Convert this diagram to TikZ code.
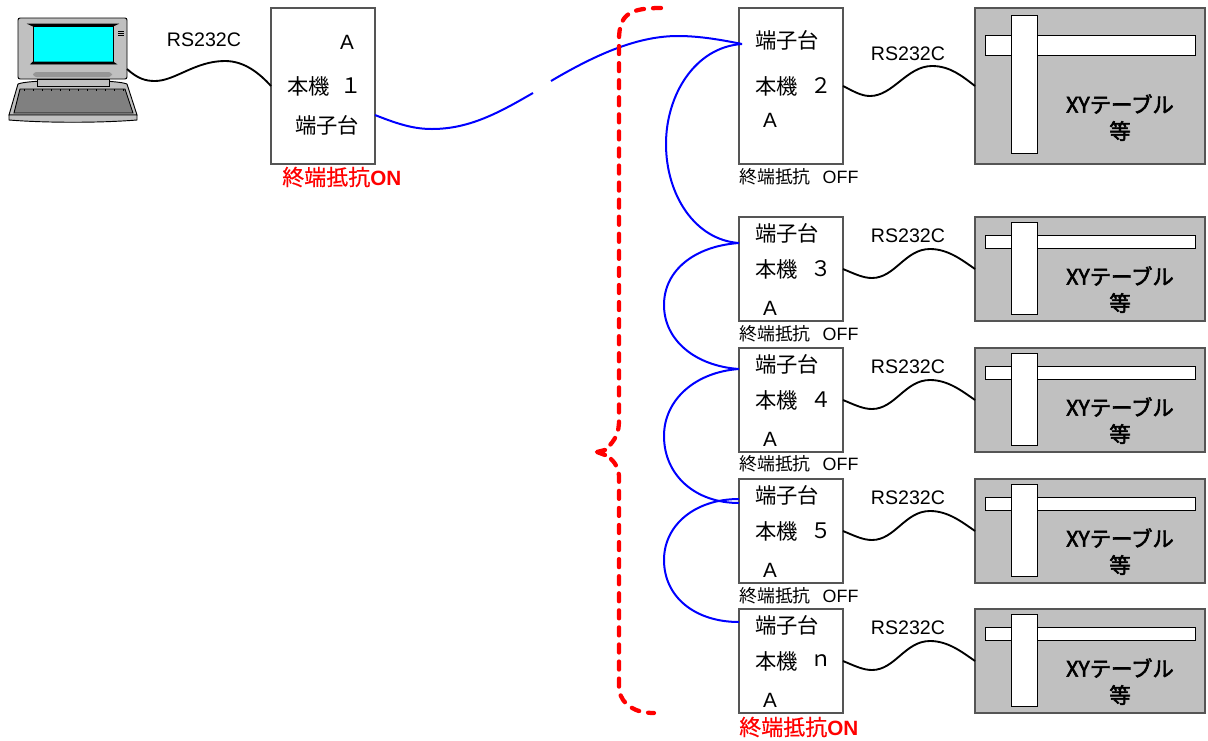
\documentclass[tikz,border=0pt]{standalone}
\usepackage{fontspec}
\setmainfont{Liberation Sans}
\newfontfamily\jp{Noto Sans CJK JP}
\newfontfamily\jpfb[FakeBold=2.6]{Noto Sans CJK JP}
\newfontfamily\jpsb[FakeBold=.4]{Noto Sans CJK JP}
\definecolor{lapgrey}{HTML}{C0C0C0}
\definecolor{keygrey}{HTML}{808080}
\definecolor{handlegrey}{HTML}{969696}
\definecolor{boxline}{HTML}{555555}
\definecolor{scr}{RGB}{0,255,255}
\definecolor{busblue}{RGB}{0,0,255}
\definecolor{redd}{RGB}{255,0,0}
\tikzset{
  box/.style={draw=boxline,line width=1pt,fill=white,minimum width=78pt,inner sep=0pt,outer sep=0pt},
  lab/.style={inner sep=0pt,outer sep=0pt,font=\fontsize{16}{18}\selectfont\jp},
  rs/.style={inner sep=0pt,font=\fontsize{14.7}{17}\selectfont},
  alab/.style={inner sep=0pt,font=\fontsize{15.5}{17}\selectfont},
  offlab/.style={inner sep=0pt,anchor=west,font=\fontsize{13.4}{15}\selectfont},
  onlab/.style={inner sep=0pt,anchor=west,text=redd,font=\fontsize{16.5}{18}\selectfont},
  xylab/.style={inner sep=0pt,font=\fontsize{16}{18}\selectfont\jpfb},
  cable/.style={draw=black,line width=1.4pt},
  bus/.style={draw=busblue,line width=1.5pt},
  bracket/.style={draw=redd,line width=3.2pt,dash pattern=on 6pt off 6.8pt,line cap=round,line join=round},
  tablebody/.style={draw=boxline,line width=.8pt,fill=lapgrey},
  tablebar/.style={draw=black,line width=.6pt,fill=white},
  lap/.style={draw=black,line width=.7pt}
}
\newcommand{\termlab}[1]{{\jp 終端抵抗}#1}
\newcommand{\termon}{{\jpsb 終端抵抗}{\fontsize{15.5}{18}\selectfont\bfseries ON}}
\begin{document}
\begin{tikzpicture}[x=.75pt,y=-.75pt]
\useasboundingbox (0,0) rectangle (1208,740);
\fill[white] (0,0) rectangle (1208,740);

% laptop
\filldraw[lap,fill=lapgrey,rounded corners=1.5pt] (18,18) -- (127,18) -- (127,79) -- (18,79) -- cycle;
\fill[scr] (33,26) rectangle (113,62);
\draw[lap,draw=black,fill=black] (29,24.2) -- (117,24.2) -- (113,26) -- (33,26) -- cycle;
\draw[lap,draw=black,fill=black] (31,64) -- (116,64) -- (113,62) -- (33,62) -- cycle;
\draw[black,line width=.6pt] (33,26) rectangle (113,62);
\foreach \yy in {31,33,35}{\draw[black,line width=.7pt] (118,\yy) -- (124,\yy);}
\fill[handlegrey,rounded corners=2.5pt] (33,72) rectangle (112,77);
\filldraw[lap,fill=lapgrey] (18,84) .. controls (30,79) and (115,79) .. (127,84) -- (137,115) -- (9,115) -- cycle;
\filldraw[lap,fill=keygrey] (20,89) -- (125,89) -- (133,113) -- (14,113) -- cycle;
\foreach \xx in {24,33,...,123}{\draw[black,line width=.4pt] (\xx,89) -- (\xx,91);}
\filldraw[lap,fill=lapgrey] (37,79) rectangle (109,86);
\filldraw[lap,fill=lapgrey] (9,115) -- (137,115) -- (137,120) .. controls (100,123) and (46,123) .. (9,120) -- cycle;
\coordinate (lapport) at (127,69);

% main boxes
\node[box,minimum height=117pt] (b1) at (323,86) {};
\node[box,minimum height=117pt] (b2) at (791,86) {};
\node[rs] (rs1) at (204,40) {RS232C};
\node[alab] (a1) at (347,42) {A};
\node[lab,anchor=west] (m1) at (287,86) {本機};
\node[lab] (d1) at (351,86) {１};
\node[lab,anchor=west] (t1) at (295,125) {端子台};
\node[onlab] (r1) at (282,177) {\termon};

\draw[cable] (lapport) .. controls (138,79) and (146,81) .. (155,81) .. controls (175,81) and (195,61) .. (225,61) .. controls (245,61) and (260,74) .. (b1.west);

% table for box 2
\node[tablebody,minimum width=172.5pt,minimum height=117pt,inner sep=0pt,outer sep=0pt] (tb2) at (1090,86) {};
\draw[tablebar] (985,35) rectangle (1195,55);
\draw[tablebar] (1011,15) rectangle (1037,153);
\node[xylab] (xy2) at (1120,104) {XYテーブル};
\node[xylab] (dd2) at (1120,131) {等};
\node[lab,anchor=west] (t2) at (755,40) {端子台};
\node[lab,anchor=west] (m2) at (755,86) {本機};
\node[lab] (d2) at (821,86) {２};
\node[alab] (a2) at (770,120) {A};
\node[rs] (rs2) at (908,54) {RS232C};
\node[offlab] (o2) at (739,177) {\termlab{\hspace{9pt}OFF}};
\draw[cable] (b2.east) .. controls (853,91) and (861,96) .. (870,96) .. controls (893,96) and (907,66) .. (932,66) .. controls (950,66) and (962,76) .. (tb2.west);

% lower rows
\foreach \nm/\tp/\ds in {3/217/３,4/348/４,5/479/５,6/609/ｎ}{
  \node[box,minimum height=78pt] (b\nm) at (791,\tp+52) {};
  \node[lab,anchor=west] (t\nm) at (755,\tp+16.5) {端子台};
  \node[lab,anchor=west] (m\nm) at (755,\tp+52) {本機};
  \node[lab] (d\nm) at (821,\tp+52) {\ds};
  \node[alab] (a\nm) at (770,\tp+91) {A};
  \node[rs] (rs\nm) at (908,\tp+18.5) {RS232C};
  \node[tablebody,minimum width=172.5pt,minimum height=78pt,inner sep=0pt,outer sep=0pt] (tb\nm) at (1090,\tp+52) {};
  \draw[tablebar] (985,\tp+18) rectangle (1195,\tp+31);
  \draw[tablebar] (1011,\tp+5) rectangle (1037,\tp+97);
  \node[xylab] (xy\nm) at (1120,\tp+59) {XYテーブル};
  \node[xylab] (dd\nm) at (1120,\tp+86) {等};
  \draw[cable] (b\nm.east) .. controls (855,\tp+57) and (863,\tp+61) .. (872,\tp+61) .. controls (895,\tp+61) and (905,\tp+32) .. (930,\tp+32) .. controls (948,\tp+32) and (962,\tp+43) .. (tb\nm.west);
}
\foreach \nm/\yy in {3/334,4/464,5/596}{
  \node[offlab] (o\nm) at (739,\yy) {\termlab{\hspace{9pt}OFF}};
}
\node[onlab] (r6) at (739,727) {\termon};

% blue bus
\coordinate (gapa) at (533,93);
\coordinate (gapb) at (551,81);
\coordinate (p2) at (742,44);
\coordinate (p3) at (739,243);
\coordinate (p4) at (739,369);
\coordinate (p5a) at (739,503);
\coordinate (p5b) at (739,499);
\coordinate (p6) at (739,622);
\coordinate (t1port) at (375,115);
\draw[bus] (t1port) .. controls (400,125) and (415,129) .. (432,129) .. controls (470,129) and (500,112) .. (gapa);
\draw[bus] (gapb) .. controls (600,52) and (640,36) .. (678,36) .. controls (700,36) and (722,40) .. (p2);
\draw[bus] (p2) .. controls (695,47) and (666,95) .. (666,144) .. controls (666,195) and (695,240) .. (p3);
\draw[bus] (p3) .. controls (695,246) and (664,270) .. (664,305) .. controls (664,340) and (695,366) .. (p4);
\draw[bus] (p4) .. controls (695,372) and (664,400) .. (664,436) .. controls (664,475) and (695,503) .. (p5a);
\draw[bus] (p5b) .. controls (695,499) and (664,525) .. (664,560) .. controls (664,597) and (695,622) .. (p6);

% red bracket
\coordinate (brtop) at (661,8);
\coordinate (brtip) at (597,452);
\coordinate (brbot) at (654,713);
\draw[bracket] (brtop) .. controls (630,8) and (619,14) .. (619,40) -- (619,420) .. controls (619,432) and (616,438) .. (610,445);
\draw[bracket,solid] (605,450) -- (brtip) -- (605,455);
\draw[bracket] (611,459) .. controls (617,465) and (619,470) .. (619,478) -- (619,690) .. controls (622,705) and (635,713) .. (brbot);
\end{tikzpicture}
\end{document}
